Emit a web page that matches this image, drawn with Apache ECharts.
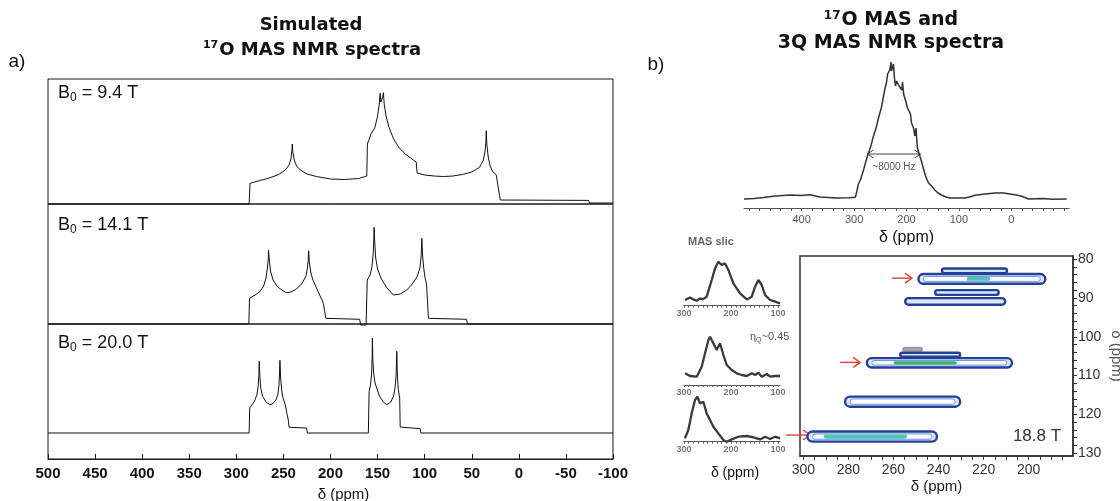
<!DOCTYPE html>
<html>
<head>
<meta charset="utf-8">
<script src="https://cdn.jsdelivr.net/npm/echarts@6/dist/echarts.min.js"></script>
<style>
  html, body { margin: 0; padding: 0; background: #fff; }
  #chart { width: 1120px; height: 501px; }
</style>
</head>
<body>
<div id="chart"></div>
<script>
// ---- a) simulated spectra (delta in ppm, intensity in arbitrary units) ----
const sim94Ppm = [500, 286.4, 285.5, 275, 265, 255, 248, 244, 242, 241, 240.6, 240, 238.5, 236, 232, 225, 215, 200, 185, 170, 161.5, 160.8, 157, 153, 150, 148.2, 147.3, 146.5, 145.5, 144.3, 143.8, 143, 141, 138, 133, 127, 120, 112, 109, 108, 100, 90, 80, 70, 60, 50, 42, 38, 36, 35, 34.6, 34, 32.5, 30.5, 28, 24, 23, 19.7, -74, -75, -100]
const sim94Int = [0, 0, 20.7, 23.5, 26, 29.5, 34, 39, 45, 53, 60, 52, 44, 38, 34, 30, 27.5, 25, 24.5, 25.5, 28, 60, 70, 76, 88, 100, 110.7, 102, 100, 108, 111.3, 100, 88, 77, 65, 56, 49.5, 44, 42, 31, 29, 28, 27.5, 28, 29.5, 32, 36.5, 43, 52, 62, 73.3, 60, 47, 38, 33, 29, 27, 4, 3.6, 1, 1]

const sim141Ppm = [500, 286.7, 286, 280, 275, 271, 268.5, 267, 266, 265.8, 265, 263.5, 261, 256, 250, 246.6, 242, 236, 230, 226, 224.5, 223.6, 223.2, 222.5, 221, 219, 214, 209, 207.6, 205, 169, 168, 162.2, 161, 158, 156, 154.7, 154, 153.7, 153, 152, 150, 146, 140, 133.2, 126, 119, 114, 108, 105, 103.7, 103, 102.3, 101, 99.5, 98, 96, 55.5, 54.5, -100]
const sim141Int = [0, 0, 25.7, 29, 32.3, 38, 46, 56, 66, 74, 64, 52, 44, 37, 33, 31.3, 32, 35, 41, 48, 56, 64, 73.3, 62, 52, 45, 34, 24, 20.7, 5.7, 4.7, -1, -1, 44, 49, 57, 70, 85, 96.7, 82, 66, 55, 45, 36, 29, 30, 34, 39, 47.3, 56, 68, 85.7, 70, 56, 45.7, 40, 5.7, 4.7, 0, 0]

const sim200Ppm = [500, 286.4, 285.8, 282, 280, 278, 276.8, 276, 275.7, 275, 274, 272.2, 268, 264.4, 261, 258, 256, 254.8, 254.2, 253.7, 253, 252, 250.9, 248, 246, 245, 244, 225.3, 224.6, 159.8, 159, 157.5, 156.3, 155.8, 155.5, 155, 154, 152.7, 148, 144, 140.2, 136, 133, 131.5, 130.3, 129.6, 129, 128, 126.5, 126, 104.8, 104, -100]
const sim200Int = [0, 0, 25, 30, 33.3, 39, 47, 58, 71.7, 56, 45, 36.7, 30.5, 28.3, 29.5, 33, 38, 47, 58, 72.7, 56, 44, 36.7, 28, 18.3, 14, 5.7, 5, 0, 0, 41.7, 48, 60, 75, 95, 72, 58, 50, 37, 31, 28.3, 31, 37, 45, 58, 81.7, 58, 43.3, 35, 6, 4.3, 0, 0]

// ---- b) experimental 17O MAS spectrum ----
const masPpm = [510, 490, 473, 450, 422, 400, 384, 365, 334, 310, 297.6, 295, 291.8, 288, 282, 274.6, 268, 263, 258, 253.5, 248, 242, 238, 236, 232, 230.6, 229.5, 228.7, 227, 224.9, 223, 221, 219, 217.2, 214, 211.5, 209, 207.6, 205.5, 203.8, 201, 198, 195, 192.4, 190.4, 188.5, 186.6, 184, 182.8, 181.8, 180, 179, 176, 173.2, 168, 163.7, 158, 152, 146, 140, 133, 125, 117, 100, 88.5, 80, 69.3, 50, 31, 15, 5.7, -10, -19.8, -33, -60, -80, -105.5]
const masInt = [-1, -0.5, 0.5, 2, 3, 2.5, 3.3, 1, 0, 0.3, 0.7, 6, 14, 18, 28, 42, 52, 62, 70, 80, 90, 107, 116, 124, 128, 132, 136, 127, 126, 134, 120, 112, 117, 118, 112, 114, 108, 116, 104, 102, 96, 90, 88, 84, 75, 74, 70, 62, 60, 70, 55, 50, 44, 40, 30, 22, 15, 12, 8, 5, 3, 1, 0, 0, 0, 1, 2.7, 4, 5, 5, 4.3, 3, 1.7, -1, -0.5, -1.2, -1]
const masTicks = [-100, -80, -60, -40, -20, 0, 20, 40, 60, 80, 100, 120, 140, 160, 180, 200, 220, 240, 260, 280, 300, 320, 340, 360, 380, 400, 420, 440, 460, 480, 500]
const masTickLabels = [400, 300, 200, 100, 0]
const fwhmEdges = [274.6, 173.2]
const fwhmLevel = 44

// ---- b) MAS slices ----
const slicePpm = [297.9, 287.2, 280.1, 273, 266, 260.3, 251.8, 241.1, 234, 227, 219.8, 212.8, 205.7, 195.1, 180.9, 166.6, 156, 149, 142, 134.7, 127.7, 117, 106.4, 96]
const slice1Int = [5.7, 8.3, 6.3, 5, 7.3, 6.3, 9, 25.7, 37.3, 44, 40.7, 42.3, 35.7, 22.3, 12.3, 6.3, 9, 19, 25.7, 20.7, 10.7, 5.7, 4, 2.3]
const slice2Ppm = [297.9, 287.2, 273, 262.4, 255.3, 248.2, 244.7, 237.6, 230.5, 223.4, 216.3, 209.2, 198.6, 188, 177.3, 166.6, 156, 149, 142, 134.7, 124, 117, 106.4, 96]
const slice2Int = [11.7, 9, 8.3, 18.3, 31.7, 45, 48.3, 41.7, 35, 41.7, 30, 20, 15, 11.7, 10, 9, 11.7, 10, 12.3, 8.3, 11, 8.3, 9, 9]
const slice3Ppm = [297.9, 290.8, 283.7, 276.6, 271.6, 266, 258.9, 251.8, 244.7, 237.6, 227, 216.3, 209.2, 198.6, 184.4, 166.6, 152.4, 138.3, 127.7, 117, 106.4, 96]
const slice3Int = [3.3, 11.7, 28.3, 41.7, 45, 38.3, 40, 28.3, 21.7, 15, 8.3, 1.7, 0, 2.3, 5, 5.7, 4.3, 2.3, 5, 2.7, 5, 3.3]
const sliceTicks = [100, 110, 120, 130, 140, 150, 160, 170, 180, 190, 200, 210, 220, 230, 240, 250, 260, 270, 280, 290, 300]
const sliceTickLabels = [300, 200, 100]

// ---- b) 3QMAS contour peaks (delta2 extent, delta1 centre / half width) ----
const contourLeft = [238.5, 248.9, 241.5, 254.8, 255.6, 257.0, 271.8, 281.5, 298.2]
const contourRight = [209.6, 192.6, 213.3, 210.4, 247.4, 230.4, 207.4, 230.4, 240.7]
const contourMid = [83.0, 85.1, 88.6, 90.9, 103.2, 104.6, 106.7, 116.7, 125.7]
const contourHalf = [0.6, 1.25, 0.6, 0.85, 0.35, 0.5, 1.2, 1.3, 1.3]
const contourEdgeLevel = [1, 1, 1, 1, 0, 1, 1, 1, 1]
const contourCoreLeft = [0, 227.5, 0, 0, 0, 0, 260.0, 0, 291.0]
const contourCoreRight = [0, 217.1, 0, 0, 0, 0, 231.9, 0, 254.0]
const contourCoreLevel = [0, 1, 0, 0, 0, 0, 2, 0, 1]
const qmasXTicks = [180, 185, 190, 195, 200, 205, 210, 215, 220, 225, 230, 235, 240, 245, 250, 255, 260, 265, 270, 275, 280, 285, 290, 295, 300]
const qmasXLabels = [300, 280, 260, 240, 220, 200, 180]
const qmasYTicks = [80, 82, 84, 86, 88, 90, 92, 94, 96, 98, 100, 102, 104, 106, 108, 110, 112, 114, 116, 118, 120, 122, 124, 126, 128, 130]
const qmasYLabels = [80, 90, 100, 110, 120, 130]
const arrowTip = [251.8, 274.8, 297.0]
const arrowDelta1 = [84.9, 106.6, 125.3]

const edgeColors = ['#9a9a9a', '#22409a']
const coreColors = ['', '#4cc6b8', '#3fb36a']

const SANS = 'Liberation Sans, Arial, sans-serif'
const BOLD = 'DejaVu Sans, Verdana, sans-serif'

const zip = (xs, ys) => xs.map((x, i) => [x, ys[i]])

const chart = echarts.init(document.getElementById('chart'))

const simGrid = (top, height) => ({
  left: 48, top, width: 565, height, show: true,
  borderColor: '#1a1a1a', borderWidth: 1, backgroundColor: 'transparent',
  outerBoundsMode: 'none', containLabel: false
})

const simX = (gi, show) => ({
  gridIndex: gi, type: 'value', min: -100, max: 500, inverse: true, interval: 50,
  axisLine: { show, onZero: false, lineStyle: { color: '#1a1a1a', width: 1 } },
  axisTick: { show, inside: true, length: 5, lineStyle: { color: '#1a1a1a' } },
  axisLabel: {
    show, fontFamily: SANS, fontWeight: 'bold', fontSize: 15, color: '#111', margin: 7,
    showMinLabel: true, showMaxLabel: true
  },
  splitLine: { show: false },
  name: show ? 'δ (ppm)' : '', nameLocation: 'middle', nameGap: 28,
  nameTextStyle: { fontFamily: SANS, fontSize: 15, color: '#111', padding: [0, 0, 0, 26] }
})

const hidY = (gi, min, max) => ({
  gridIndex: gi, type: 'value', min, max, show: false,
  axisLine: { onZero: false }, splitLine: { show: false }
})

const smallX = (gi) => ({
  gridIndex: gi, type: 'value', min: 96, max: 300, inverse: true,
  axisLine: { onZero: false, lineStyle: { color: '#555', width: 1.2 } },
  axisTick: { customValues: sliceTicks, length: 2, lineStyle: { color: '#666' } },
  axisLabel: {
    customValues: sliceTickLabels, fontFamily: SANS, fontWeight: 'bold', fontSize: 9,
    color: '#777', margin: 3
  },
  splitLine: { show: false }
})

const lineSeries = (gi, data, color, width) => ({
  type: 'line', xAxisIndex: gi, yAxisIndex: gi, data, symbol: 'none', showSymbol: false,
  clip: false, silent: true, lineStyle: { color, width }
})

function renderContour(params, api) {
  const i = params.dataIndex
  const pl = api.coord([api.value(0), api.value(2)])
  const pr = api.coord([api.value(1), api.value(2)])
  const ha = Math.abs(api.size([0, api.value(3)])[1])
  const yc = pl[1]
  const xl = Math.min(pl[0], pr[0]), xr = Math.max(pl[0], pr[0])
  const kids = [{
    type: 'rect', shape: { x: xl, y: yc - ha, width: xr - xl, height: 2 * ha, r: ha },
    style: { fill: '#dce6f6', stroke: edgeColors[contourEdgeLevel[i]], lineWidth: 2.4 }
  }]
  if (ha > 3.5) {
    kids.push({
      type: 'rect', shape: { x: xl + 5, y: yc - ha + 2.4, width: xr - xl - 10, height: 2 * ha - 4.8, r: ha - 2.4 },
      style: { fill: '#fff', stroke: '#6d98e0', lineWidth: 1 }
    })
  }
  const lv = contourCoreLevel[i]
  if (lv > 0) {
    const cl = api.coord([contourCoreLeft[i], api.value(2)])
    const cr = api.coord([contourCoreRight[i], api.value(2)])
    const x0 = Math.min(cl[0], cr[0]), x1 = Math.max(cl[0], cr[0])
    kids.push({
      type: 'rect', shape: { x: x0, y: yc - ha + 3, width: x1 - x0, height: 2 * ha - 6, r: ha - 3 },
      style: { fill: coreColors[lv] }
    })
  }
  return { type: 'group', children: kids }
}

const option = {
  animation: false,
  backgroundColor: '#fff',
  grid: [
    simGrid(79, 125),
    simGrid(204, 120),
    simGrid(324, 135),
    { left: 744, top: 55, width: 325, height: 153, outerBoundsMode: 'none', containLabel: false },
    { left: 684, top: 255, width: 96, height: 50.7, outerBoundsMode: 'none', containLabel: false },
    { left: 684, top: 335, width: 96, height: 50, outerBoundsMode: 'none', containLabel: false },
    { left: 684, top: 392, width: 96, height: 49.7, outerBoundsMode: 'none', containLabel: false },
    {
      left: 800, top: 256, width: 273, height: 200, show: true, borderColor: '#333', borderWidth: 1.5,
      backgroundColor: 'transparent', outerBoundsMode: 'none', containLabel: false
    }
  ],
  xAxis: [
    simX(0, false), simX(1, false), simX(2, true),
    {
      gridIndex: 3, type: 'value', min: -110, max: 510, inverse: true,
      axisLine: { onZero: false, lineStyle: { color: '#555', width: 1 } },
      axisTick: { customValues: masTicks, length: 3, lineStyle: { color: '#555' } },
      axisLabel: { customValues: masTickLabels, fontFamily: SANS, fontSize: 11, color: '#555', margin: 6 },
      splitLine: { show: false },
      name: 'δ (ppm)', nameLocation: 'middle', nameGap: 22,
      nameTextStyle: { fontFamily: SANS, fontSize: 16, color: '#111' }
    },
    smallX(4), smallX(5), smallX(6),
    {
      gridIndex: 7, type: 'value', min: 180.3, max: 301.5, inverse: true,
      axisLine: { onZero: false, lineStyle: { color: '#333', width: 1.5 } },
      axisTick: { customValues: qmasXTicks, length: 4, lineStyle: { color: '#333' } },
      axisLabel: { customValues: qmasXLabels, fontFamily: SANS, fontSize: 14, color: '#333', margin: 7 },
      splitLine: { show: false },
      name: 'δ (ppm)', nameLocation: 'middle', nameGap: 23,
      nameTextStyle: { fontFamily: SANS, fontSize: 15, color: '#222' }
    }
  ],
  yAxis: [
    hidY(0, 0, 125), hidY(1, 0, 120), hidY(2, -26, 109), hidY(3, -10, 143),
    hidY(4, 0, 50.7), hidY(5, 0, 50), hidY(6, 0, 49.7),
    {
      gridIndex: 7, type: 'value', min: 79.2, max: 130.7, inverse: true, position: 'right',
      axisLine: { show: true, onZero: false, lineStyle: { color: '#333', width: 1.5 } },
      axisTick: { show: true, customValues: qmasYTicks, length: 4, lineStyle: { color: '#333' } },
      axisLabel: { customValues: qmasYLabels, fontFamily: SANS, fontSize: 14, color: '#333', margin: 5 },
      splitLine: { show: false },
      name: 'δ (ppm)', nameLocation: 'middle', nameGap: 36, nameRotate: -90,
      nameTextStyle: { fontFamily: SANS, fontSize: 15, color: '#555' }
    }
  ],
  series: [
    lineSeries(0, zip(sim94Ppm, sim94Int), '#111', 1),
    lineSeries(1, zip(sim141Ppm, sim141Int), '#111', 1),
    lineSeries(2, zip(sim200Ppm, sim200Int), '#111', 1),
    lineSeries(3, zip(masPpm, masInt), '#333', 1.5),
    lineSeries(4, zip(slicePpm, slice1Int), '#3a3a3a', 2.3),
    lineSeries(5, zip(slice2Ppm, slice2Int), '#3a3a3a', 2.3),
    lineSeries(6, zip(slice3Ppm, slice3Int), '#3a3a3a', 2.3),
    {
      type: 'custom', xAxisIndex: 7, yAxisIndex: 7, silent: true,
      renderItem: renderContour,
      data: contourLeft.map((v, i) => [v, contourRight[i], contourMid[i], contourHalf[i]])
    }
  ]
}

chart.setOption(option)

// annotations placed through the axes' own scales
const px = (gi, x, y) => chart.convertToPixel({ xAxisIndex: gi, yAxisIndex: gi }, [x, y])

const graphics = []

const txt = (x, y, text, rich, align) => ({
  type: 'text', x, y, silent: true,
  style: { text, rich, align: align || 'center', verticalAlign: 'middle', textAlign: align || 'center', textVerticalAlign: 'middle' }
})

const titleRich = (size) => ({
  t: { fontFamily: BOLD, fontWeight: 'bold', fontSize: size, lineHeight: size + 4, fill: '#111', color: '#111' },
  u: { fontFamily: BOLD, fontWeight: 'bold', fontSize: Math.round(size * 0.62), lineHeight: 12, padding: [0, 1, 9, 0], fill: '#111', color: '#111' }
})

graphics.push(txt(311, 25, '{t|Simulated}', titleRich(18)))
graphics.push(txt(312, 50, '{u|17}{t|O MAS NMR spectra}', titleRich(18)))
graphics.push(txt(891, 20, '{u|17}{t|O MAS and}', titleRich(19)))
graphics.push(txt(891, 43, '{t|3Q MAS NMR spectra}', titleRich(19)))

const plain = { p: { fontFamily: SANS, fontSize: 19, fill: '#111', color: '#111' } }
graphics.push(txt(17, 62, '{p|a)}', plain))
graphics.push(txt(656, 65, '{p|b)}', plain))

const bRich = {
  m: { fontFamily: SANS, fontSize: 18, lineHeight: 20, fill: '#111', color: '#111' },
  s: { fontFamily: SANS, fontSize: 12, lineHeight: 12, padding: [10, 0, 0, 0], fill: '#111', color: '#111' }
}
graphics.push(txt(58, 93, '{m|B}{s|0}{m| = 9.4 T}', bRich, 'left'))
graphics.push(txt(58, 225, '{m|B}{s|0}{m| = 14.1 T}', bRich, 'left'))
graphics.push(txt(58, 343, '{m|B}{s|0}{m| = 20.0 T}', bRich, 'left'))

// FWHM double arrow on the MAS spectrum
const fl = px(3, fwhmEdges[0], fwhmLevel)
const fr = px(3, fwhmEdges[1], fwhmLevel)
graphics.push({
  type: 'group', silent: true, children: [
    { type: 'line', shape: { x1: fl[0], y1: fl[1], x2: fr[0], y2: fr[1] }, style: { stroke: '#444', lineWidth: 1 } },
    { type: 'polyline', shape: { points: [[fl[0] + 6, fl[1] - 4], [fl[0], fl[1]], [fl[0] + 6, fl[1] + 4]] }, style: { stroke: '#444', lineWidth: 1, fill: null } },
    { type: 'polyline', shape: { points: [[fr[0] - 6, fr[1] - 4], [fr[0], fr[1]], [fr[0] - 6, fr[1] + 4]] }, style: { stroke: '#444', lineWidth: 1, fill: null } }
  ]
})
graphics.push(txt((fl[0] + fr[0]) / 2, fl[1] + 13, '{h|~8000 Hz}', { h: { fontFamily: SANS, fontSize: 10, fill: '#555', color: '#555' } }))

// slice captions
graphics.push(txt(688, 242, '{c|MAS slic}', { c: { fontFamily: SANS, fontSize: 11, fontWeight: 'bold', fill: '#666', color: '#666' } }, 'left'))
graphics.push(txt(750, 337, '{g|η}{q|Q}{g|~0.45}', {
  g: { fontFamily: SANS, fontSize: 11, lineHeight: 13, fill: '#555', color: '#555' },
  q: { fontFamily: SANS, fontSize: 7, lineHeight: 8, padding: [6, 0, 0, 0], fill: '#555', color: '#555' }
}, 'left'))
graphics.push(txt(735, 473, '{d|δ (ppm)}', { d: { fontFamily: SANS, fontSize: 14, fill: '#111', color: '#111' } }))

// field label and red arrows on the 3QMAS map
graphics.push(txt(1037, 436, '{f|18.8 T}', { f: { fontFamily: SANS, fontSize: 17, fill: '#333', color: '#333' } }))
arrowTip.forEach((d2, i) => {
  const p = px(7, d2, arrowDelta1[i])
  const len = i === 2 ? 24 : 20
  graphics.push({
    type: 'group', silent: true, children: [
      { type: 'line', shape: { x1: p[0] - len, y1: p[1], x2: p[0], y2: p[1] }, style: { stroke: '#e3402e', lineWidth: 1.4 } },
      { type: 'polyline', shape: { points: [[p[0] - 7, p[1] - 5], [p[0], p[1]], [p[0] - 7, p[1] + 5]] }, style: { stroke: '#e3402e', lineWidth: 1.4, fill: null } }
    ]
  })
})

chart.setOption({ graphic: graphics })
</script>
</body>
</html>
